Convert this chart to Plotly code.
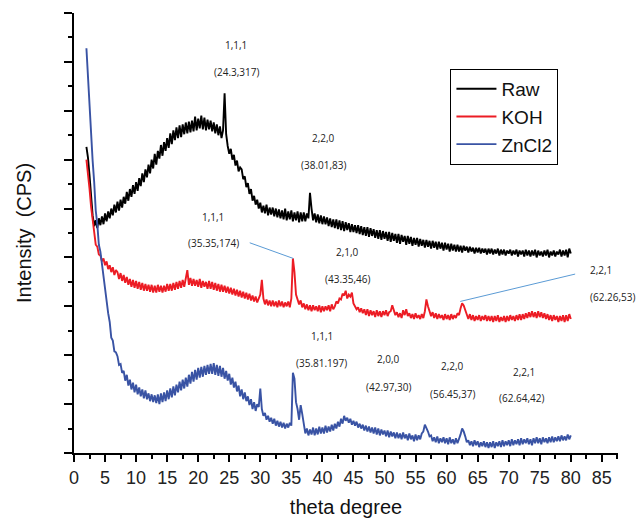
import numpy as np
import plotly.graph_objects as go

# 2-theta sampling grid (degrees), 0.25 deg step from 2 to 80
theta = np.round(np.arange(2.0, 80.001, 0.25), 2)

raw = [
    313, 302, 284, 260, 243, 232, 238, 230, 240, 233, 242, 234, 245, 237, 247, 240, 250, 243, 254, 246,
    257, 248, 259, 251, 262, 255, 267, 258, 270, 262, 274, 265, 277, 268, 281, 273, 286, 277, 290, 282,
    295, 286, 300, 291, 306, 295, 309, 301, 315, 304, 318, 309, 322, 312, 327, 316, 330, 320, 333, 322,
    335, 323, 336, 326, 338, 327, 339, 328, 340, 329, 344, 330, 342, 332, 345, 331, 343, 330, 341, 331,
    340, 329, 338, 327, 336, 325, 334, 322, 330, 368, 326, 314, 306, 311, 300, 305, 294, 299, 288, 292,
    290, 280, 283, 272, 276, 265, 270, 258, 263, 254, 259, 250, 256, 246, 253, 245, 254, 243, 251, 244,
    251, 242, 250, 241, 249, 240, 248, 239, 250, 238, 247, 239, 248, 237, 246, 238, 247, 236, 246, 237,
    246, 237, 245, 240, 266, 250, 238, 245, 236, 244, 235, 243, 234, 242, 234, 241, 232, 240, 231, 239,
    230, 239, 229, 238, 228, 237, 227, 236, 228, 235, 226, 234, 226, 233, 225, 233, 224, 232, 223, 231,
    222, 231, 221, 230, 222, 229, 220, 228, 219, 228, 218, 227, 219, 226, 217, 226, 216, 225, 217, 224,
    215, 224, 214, 223, 216, 222, 213, 222, 214, 221, 212, 220, 213, 220, 211, 219, 212, 218, 210, 218,
    211, 217, 209, 217, 210, 216, 208, 216, 209, 215, 207, 215, 208, 214, 206, 214, 207, 213, 206, 213,
    206, 212, 205, 212, 207, 211, 205, 211, 206, 210, 204, 210, 205, 210, 204, 209, 205, 209, 203, 209,
    204, 209, 203, 208, 204, 209, 202, 208, 203, 208, 202, 207, 204, 208, 202, 207, 203, 208, 201, 207,
    203, 207, 201, 208, 202, 207, 201, 207, 202, 208, 200, 207, 202, 206, 201, 207, 202, 208, 200, 206,
    202, 207, 201, 206, 203, 208, 201, 207, 202, 208, 200, 209, 204,
]

koh = [
    300, 287, 270, 252, 240, 230, 213, 211, 203, 202, 196, 199, 192, 196, 188, 192, 185, 190, 182, 187,
    185, 178, 184, 176, 182, 174, 180, 172, 178, 170, 177, 169, 176, 168, 175, 167, 174, 166, 173, 166,
    172, 165, 172, 164, 171, 164, 172, 165, 171, 164, 171, 165, 173, 166, 173, 166, 174, 167, 175, 168,
    176, 169, 177, 170, 178, 187, 172, 179, 171, 178, 171, 177, 170, 178, 169, 176, 170, 175, 168, 176,
    168, 175, 167, 174, 166, 173, 165, 172, 165, 171, 164, 170, 163, 169, 162, 168, 161, 167, 160, 166,
    159, 165, 158, 164, 157, 163, 156, 161, 155, 160, 154, 159, 162, 177, 158, 152, 157, 151, 156, 150,
    156, 150, 155, 149, 156, 150, 155, 149, 154, 150, 155, 149, 158, 199, 185, 162, 158, 152, 156, 149,
    153, 147, 152, 146, 151, 145, 151, 146, 150, 145, 151, 144, 150, 145, 150, 146, 151, 145, 152, 147,
    150, 155, 153, 158, 157, 163, 161, 166, 158, 162, 160, 164, 153, 150, 147, 149, 144, 148, 143, 147,
    141, 147, 140, 146, 141, 145, 139, 146, 140, 145, 139, 145, 141, 146, 140, 144, 145, 151, 147, 141,
    144, 139, 143, 138, 146, 141, 147, 140, 143, 138, 142, 137, 143, 138, 141, 137, 142, 138, 145, 157,
    150, 145, 140, 144, 138, 143, 137, 142, 138, 141, 136, 142, 137, 141, 136, 142, 137, 141, 138, 143,
    141, 148, 153, 151, 146, 141, 137, 142, 136, 141, 135, 140, 136, 141, 135, 140, 136, 141, 135, 140,
    135, 140, 134, 140, 135, 141, 134, 139, 135, 140, 134, 140, 135, 141, 136, 140, 135, 141, 136, 142,
    136, 142, 137, 143, 138, 144, 139, 145, 139, 144, 138, 145, 139, 144, 138, 143, 137, 142, 136, 141,
    135, 141, 136, 140, 134, 140, 135, 141, 134, 141, 135, 142, 137,
]

zncl2 = [
    414, 382, 349, 327, 299, 277, 248, 234, 213, 206, 193, 184, 166, 159, 143, 134, 118, 115, 104, 103,
    99, 90, 91, 82, 84, 74, 80, 69, 75, 65, 72, 62, 70, 60, 67, 58, 65, 56, 64, 55,
    61, 53, 60, 52, 59, 51, 60, 50, 61, 52, 62, 53, 64, 55, 66, 57, 68, 59, 70, 62,
    73, 64, 75, 66, 77, 68, 80, 71, 83, 73, 85, 75, 87, 77, 88, 78, 89, 80, 90, 81,
    91, 81, 92, 80, 90, 79, 89, 78, 87, 76, 84, 74, 81, 70, 77, 67, 73, 63, 69, 58,
    65, 55, 62, 53, 58, 49, 55, 45, 52, 43, 50, 47, 66, 45, 38, 41, 34, 38, 32, 36,
    30, 35, 28, 33, 27, 32, 26, 31, 25, 30, 26, 31, 28, 82, 76, 52, 45, 34, 49, 40,
    27, 20, 25, 18, 24, 19, 26, 18, 25, 19, 27, 20, 26, 20, 28, 21, 27, 22, 29, 23,
    30, 25, 32, 27, 35, 30, 38, 33, 36, 31, 35, 29, 33, 28, 32, 26, 30, 25, 29, 23,
    28, 22, 27, 21, 26, 20, 26, 19, 25, 18, 24, 19, 23, 17, 23, 16, 22, 17, 21, 15,
    21, 15, 20, 14, 21, 15, 19, 13, 20, 14, 18, 12, 19, 13, 18, 14, 20, 22, 29, 26,
    22, 17, 18, 12, 16, 11, 17, 10, 15, 11, 16, 10, 15, 9, 16, 10, 14, 9, 15, 10,
    14, 19, 25, 22, 17, 11, 13, 8, 12, 7, 13, 8, 12, 6, 11, 7, 12, 6, 11, 5,
    11, 6, 12, 5, 11, 7, 12, 6, 13, 7, 12, 8, 13, 7, 14, 8, 13, 9, 14, 8,
    15, 9, 14, 10, 15, 9, 14, 8, 15, 10, 16, 10, 15, 9, 16, 11, 15, 10, 16, 11,
    17, 11, 16, 12, 17, 12, 18, 13, 17, 13, 19, 14, 18,
]

assert len(raw) == len(theta) and len(koh) == len(theta) and len(zncl2) == len(theta), \
    (len(theta), len(raw), len(koh), len(zncl2))

series_names = ["Raw", "KOH", "ZnCl2"]
series_colors = ["#000000", "#ec1c24", "#3953a4"]

# peak labels
label_x = [26.1, 26.1, 40.1, 40.1, 22.4, 22.4, 44.0, 44.0, 82.8, 82.8,
           39.9, 39.9, 50.7, 50.7, 60.9, 60.9, 72.5, 72.1]
label_y = [417, 390, 322, 295, 241, 215, 206, 178, 187, 160,
           120, 92, 96, 68, 89, 60, 83, 56]
label_text = ["1,1,1", "(24.3,317)", "2,2,0", "(38.01,83)", "1,1,1", "(35.35,174)",
              "2,1,0", "(43.35,46)", "2,2,1", "(62.26,53)",
              "1,1,1", "(35.81.197)", "2,0,0", "(42.97,30)", "2,2,0", "(56.45,37)",
              "2,2,1", "(62.64,42)"]
label_anchor = ["center"] * 8 + ["left", "left"] + ["center"] * 8

# leader lines (label -> KOH peak)
leader_x0 = [28.3, 80.7]
leader_y0 = [215, 183]
leader_x1 = [35.3, 62.2]
leader_y1 = [199, 155]

fig = go.Figure()
for name, ys, col in zip(series_names, [raw, koh, zncl2], series_colors):
    fig.add_trace(go.Scatter(x=theta, y=ys, mode="lines", name=name,
                             line=dict(color=col, width=1.9)))

for x0, y0, x1, y1 in zip(leader_x0, leader_y0, leader_x1, leader_y1):
    fig.add_shape(type="line", x0=x0, y0=y0, x1=x1, y1=y1, xref="x", yref="y",
                  line=dict(color="#5b9bd5", width=1))

for x, y, t, a in zip(label_x, label_y, label_text, label_anchor):
    fig.add_annotation(x=x, y=y, text=t, showarrow=False, xanchor=a,
                       font=dict(family="Open Sans", size=10, color="#222222"))

fig.add_annotation(x=-0.092, y=0.5, xref="paper", yref="paper", text="Intensity\u00a0 (CPS)",
                   textangle=-90, showarrow=False, xanchor="center", yanchor="middle",
                   font=dict(family="Liberation Sans", size=20, color="#111111"))

fig.update_layout(
    width=637, height=518,
    margin=dict(l=74, r=19, t=13, b=65),
    paper_bgcolor="white", plot_bgcolor="white",
    showlegend=True,
    legend=dict(x=0.692, y=0.873, xanchor="left", yanchor="top",
                bordercolor="black", borderwidth=1, bgcolor="white",
                font=dict(family="Liberation Sans", size=19, color="#111111"),
                itemwidth=40, tracegroupgap=0),
    font=dict(family="Liberation Sans"),
)
fig.update_xaxes(range=[0, 87.6], tickmode="linear", tick0=0, dtick=5,
                 ticks="outside", ticklen=7, tickwidth=2, tickcolor="black",
                 minor=dict(ticks="outside", ticklen=4, tickwidth=1.5, dtick=2.5, tickcolor="black"),
                 showline=True, linecolor="black", linewidth=2, showgrid=False, zeroline=False,
                 automargin=False,
                 tickfont=dict(family="Liberation Sans", size=18, color="#222222"),
                 title=dict(text="theta degree", standoff=22,
                            font=dict(family="Liberation Sans", size=20, color="#111111")))
fig.update_yaxes(range=[0, 450], tickmode="linear", tick0=0, dtick=50,
                 ticks="outside", ticklen=8, tickwidth=2, tickcolor="black",
                 minor=dict(ticks="outside", ticklen=4, tickwidth=1.5, dtick=25, tickcolor="black"),
                 showline=True, linecolor="black", linewidth=2, showgrid=False, zeroline=False,
                 showticklabels=False, automargin=False)

fig.write_html("out.html")
